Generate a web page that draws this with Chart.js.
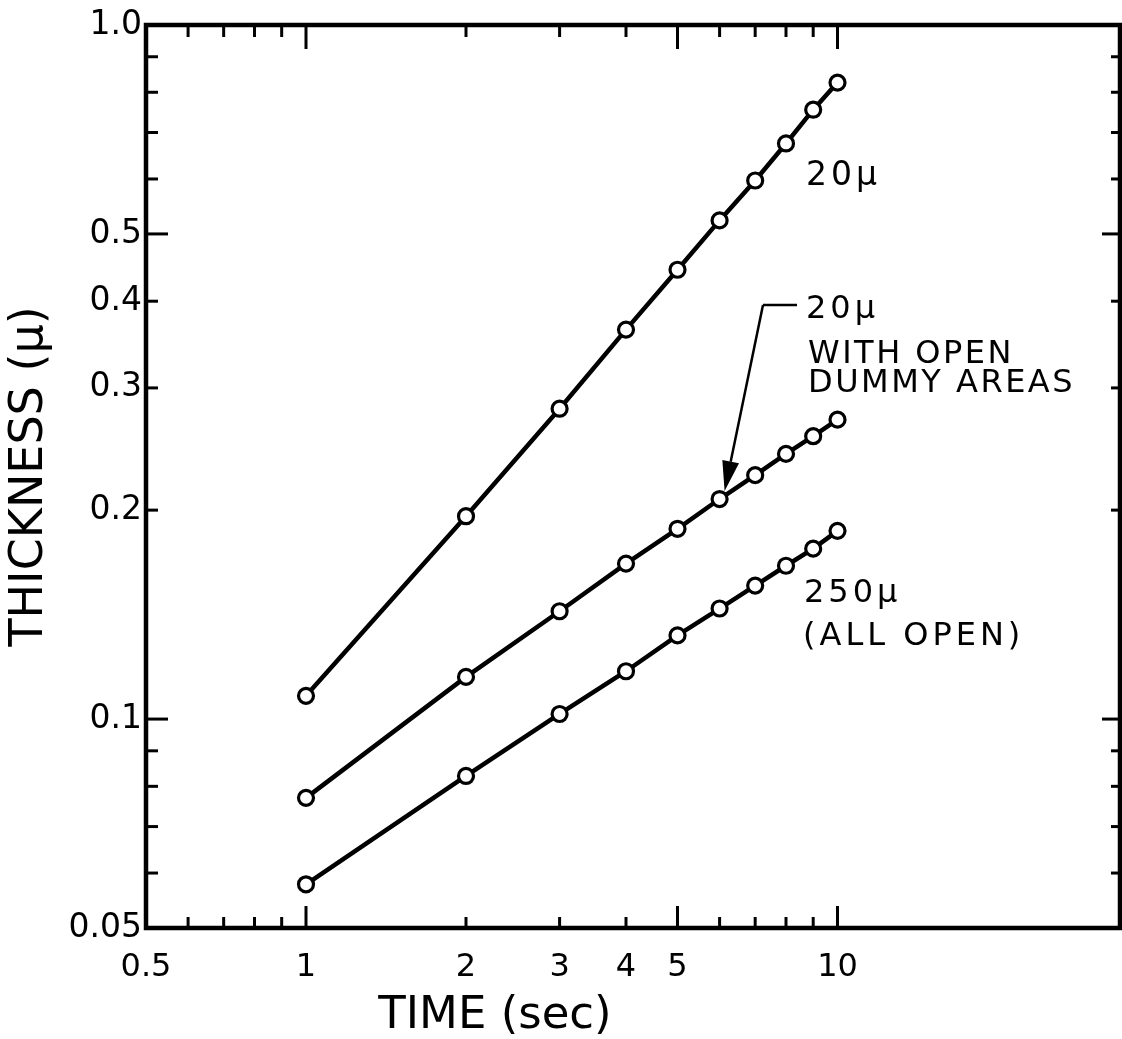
<!DOCTYPE html>
<html><head><meta charset="utf-8">
<script src="https://cdn.jsdelivr.net/npm/chart.js@4.4.1/dist/chart.umd.min.js"></script>
<style>
html,body{margin:0;padding:0;background:#fff;overflow:hidden;width:1122px;height:1039px;}
#wrap{width:1122px;height:1039px;position:relative;overflow:hidden;}
#c{display:block;}
</style>
</head><body><div id="wrap"><canvas id="c"></canvas></div>
<script>
// ---- data ----
const times = [1, 2, 3, 4, 5, 6, 7, 8, 9, 10];
const thick20 = [0.108, 0.196, 0.280, 0.364, 0.444, 0.523, 0.597, 0.675, 0.755, 0.826];
const thick20Dummy = [0.077, 0.115, 0.143, 0.1675, 0.188, 0.2075, 0.2246, 0.241, 0.2556, 0.270];
const thick250 = [0.0578, 0.0828, 0.1017, 0.1172, 0.132, 0.1443, 0.1557, 0.1663, 0.176, 0.1867];
const seriesNames = ['20μ', '20μ WITH OPEN DUMMY AREAS', '250μ (ALL OPEN)'];
const xTickValues = [0.5, 1, 2, 3, 4, 5, 10];
const xTickLabels = ['0.5', '1', '2', '3', '4', '5', '10'];
const yTickValues = [0.05, 0.1, 0.2, 0.3, 0.4, 0.5, 1.0];
const yTickLabels = ['0.05', '0.1', '0.2', '0.3', '0.4', '0.5', '1.0'];
const xMajorMarks = [1, 5, 10];
const xMinorMarks = [0.6, 0.7, 0.8, 0.9, 2, 3, 4, 6, 7, 8, 9];
const yMajorMarks = [0.1, 0.5];
const yMinorMarks = [0.06, 0.07, 0.08, 0.09, 0.2, 0.3, 0.4, 0.6, 0.7, 0.8, 0.9];
const xTitle = 'TIME (sec)';
const yTitle = 'THICKNESS (μ)';

const FONT = '"DejaVu Sans", "Liberation Sans", sans-serif';

function spaced(ctx, px) { if ('letterSpacing' in ctx) ctx.letterSpacing = px + 'px'; }

const deco = {
  id: 'deco',
  beforeDraw(chart) {
    const ctx = chart.ctx;
    ctx.save(); ctx.fillStyle = '#fff'; ctx.fillRect(0, 0, chart.width, chart.height); ctx.restore();
  },
  beforeDatasetsDraw(chart) {
    const ctx = chart.ctx;
    const {left, right, top, bottom} = chart.chartArea;
    const xs = chart.scales.x, ys = chart.scales.y;
    ctx.save();
    ctx.strokeStyle = '#000';
    ctx.lineCap = 'butt';
    ctx.lineWidth = 3;
    const seg = (x0, y0, x1, y1) => { ctx.beginPath(); ctx.moveTo(x0, y0); ctx.lineTo(x1, y1); ctx.stroke(); };
    xMajorMarks.forEach(v => { const p = xs.getPixelForValue(v); seg(p, bottom, p, bottom - 22); seg(p, top, p, top + 24); });
    xMinorMarks.forEach(v => { const p = xs.getPixelForValue(v); seg(p, bottom, p, bottom - 11); seg(p, top, p, top + 12); });
    yMajorMarks.forEach(v => { const p = ys.getPixelForValue(v); seg(left, p, left + 22, p); seg(right, p, right - 18, p); });
    yMinorMarks.forEach(v => { const p = ys.getPixelForValue(v); seg(left, p, left + 12, p); seg(right, p, right - 9, p); });
    ctx.lineWidth = 4.5;
    ctx.strokeRect(left, top, right - left, bottom - top);
    ctx.restore();
  },
  afterDatasetsDraw(chart) {
    const ctx = chart.ctx;
    ctx.save();
    ctx.fillStyle = '#000';
    ctx.strokeStyle = '#000';
    // x axis title
    ctx.font = '45px ' + FONT;
    ctx.textAlign = 'center';
    ctx.textBaseline = 'alphabetic';
    spaced(ctx, 0);
    ctx.fillText(xTitle, 495, 1028);
    // annotations
    ctx.textAlign = 'left';
    ctx.font = '33px ' + FONT;
    spaced(ctx, 4);
    ctx.fillText('20μ', 806, 185);
    ctx.font = '32px ' + FONT;
    ctx.fillText('20μ', 806, 318);
    spaced(ctx, 2.5);
    ctx.fillText('WITH OPEN', 808, 363);
    ctx.fillText('DUMMY AREAS', 808, 392);
    spaced(ctx, 4);
    ctx.fillText('250μ', 804, 602);
    ctx.fillText('(ALL OPEN)', 803, 645);
    spaced(ctx, 0);
    // leader arrow to the 6 s point of the middle series
    const pt = chart.getDatasetMeta(1).data[5];
    const tip = {x: pt.x + 5, y: pt.y - 8};
    const start = {x: 763, y: 305};
    ctx.lineWidth = 2.5;
    ctx.beginPath(); ctx.moveTo(797, 305); ctx.lineTo(start.x, start.y); ctx.stroke();
    let dx = start.x - tip.x, dy = start.y - tip.y;
    const len = Math.hypot(dx, dy); dx /= len; dy /= len;
    const base = {x: tip.x + dx * 30, y: tip.y + dy * 30};
    ctx.beginPath(); ctx.moveTo(start.x, start.y); ctx.lineTo(base.x, base.y); ctx.stroke();
    const px = -dy, py = dx;
    ctx.beginPath();
    ctx.moveTo(tip.x, tip.y);
    ctx.lineTo(base.x + px * 8.5, base.y + py * 8.5);
    ctx.lineTo(base.x - px * 8.5, base.y - py * 8.5);
    ctx.closePath(); ctx.fill();
    ctx.restore();
  }
};

const datasets = [thick20, thick20Dummy, thick250].map((arr, i) => ({
  label: seriesNames[i],
  data: times.map((t, j) => ({x: t, y: arr[j]})),
  borderColor: '#000',
  borderWidth: 4.5,
  pointRadius: 7.5,
  pointBorderWidth: 3.2,
  pointBackgroundColor: '#fff',
  pointBorderColor: '#000',
  tension: 0,
  fill: false
}));

new Chart(document.getElementById('c'), {
  type: 'line',
  data: {datasets},
  plugins: [deco],
  options: {
    responsive: true,
    maintainAspectRatio: false,
    animation: false,
    layout: {autoPadding: false, padding: {left: 0, right: 2, top: 25, bottom: 0}},
    plugins: {legend: {display: false}, tooltip: {enabled: false}, title: {display: false}},
    scales: {
      x: {
        type: 'logarithmic', min: 0.5, max: 34, position: 'bottom',
        afterBuildTicks: s => { s.ticks = xTickValues.map(v => ({value: v})); },
        afterFit: s => { s.height = 111; },
        grid: {display: false, drawTicks: false},
        border: {display: false},
        ticks: {
          autoSkip: false, maxRotation: 0, minRotation: 0, padding: 20, color: '#000',
          font: {family: FONT, size: 32},
          callback: v => { const i = xTickValues.indexOf(Number(v)); return i >= 0 ? xTickLabels[i] : ''; }
        }
      },
      y: {
        type: 'logarithmic', min: 0.05, max: 1.0, position: 'left',
        afterBuildTicks: s => { s.ticks = yTickValues.map(v => ({value: v})); },
        afterFit: s => { s.width = 146; },
        grid: {display: false, drawTicks: false},
        border: {display: false},
        title: {display: true, text: yTitle, color: '#000', font: {family: FONT, size: 46}, padding: {top: 2, bottom: 0}},
        ticks: {
          autoSkip: false, padding: 4, color: '#000',
          font: {family: FONT, size: 33},
          callback: v => { const i = yTickValues.indexOf(Number(v)); return i >= 0 ? yTickLabels[i] : ''; }
        }
      }
    }
  }
});
</script>
</body></html>
